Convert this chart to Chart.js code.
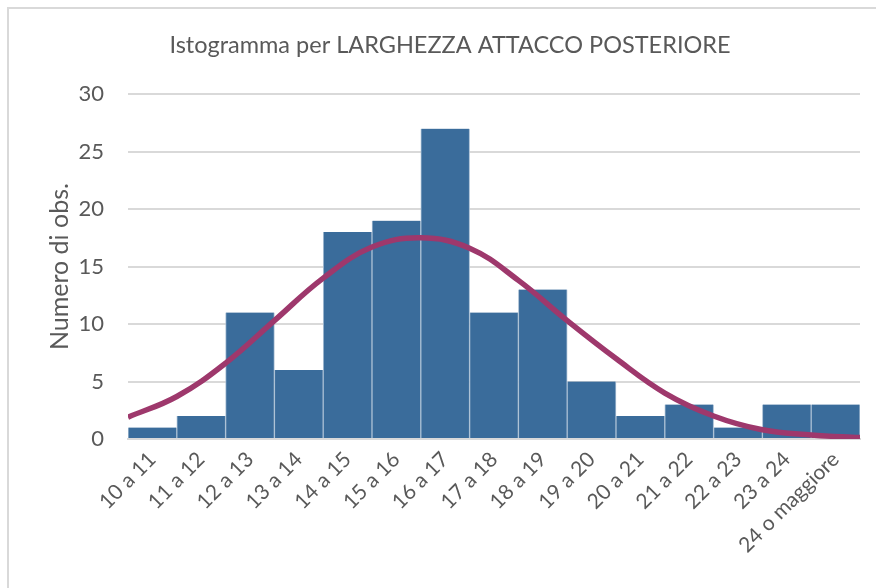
<!DOCTYPE html>
<html>
<head>
<meta charset="utf-8">
<script src="https://cdn.jsdelivr.net/npm/chart.js@4.4.0/dist/chart.umd.min.js"></script>
<style>
  html, body { margin: 0; padding: 0; background: #fff; }
  #wrap { position: relative; width: 876px; height: 588px; overflow: hidden; }
  #frame { position: absolute; left: 7px; top: 7px; width: 900px; height: 600px;
           border-left: 2px solid #d9d9d9; border-top: 2px solid #d9d9d9; pointer-events: none; }
  canvas { position: absolute; left: 0; top: 0; }
</style>
</head>
<body>
<div id="wrap">
  <canvas id="histChart" width="876" height="588"></canvas>
  <div id="frame"></div>
</div>
<script>
// Classi e frequenze osservate
const categorie = ['10 a 11', '11 a 12', '12 a 13', '13 a 14', '14 a 15', '15 a 16', '16 a 17',
  '17 a 18', '18 a 19', '19 a 20', '20 a 21', '21 a 22', '22 a 23', '23 a 24', '24 o maggiore'];
const frequenze = [1, 2, 11, 6, 18, 19, 27, 11, 13, 5, 2, 3, 1, 3, 3];

// Curva normale (ai bordi delle classi)
const curvaX = [10, 11, 12, 13, 14, 15, 16, 17, 18, 19, 20, 21, 22, 23, 24, 25];
const curvaY = [1.9, 3.7, 6.6, 10.3, 14.0, 16.7, 17.5, 16.6, 13.8, 10.3, 7.0, 4.0, 2.0, 0.8, 0.35, 0.12];

const yTicks = [0, 5, 10, 15, 20, 25, 30];

Chart.defaults.font.family = 'Lato, "Open Sans", sans-serif';
Chart.defaults.color = '#595959';

const ctx = document.getElementById('histChart').getContext('2d');
new Chart(ctx, {
  data: {
    labels: categorie,
    datasets: [
      {
        type: 'line',
        label: 'Normale',
        data: curvaX.map((x, i) => ({ x: x, y: curvaY[i] })),
        xAxisID: 'xc',
        borderColor: '#9e386c',
        borderWidth: 5.5,
        pointRadius: 0,
        tension: 0.4,
        fill: false,
        order: 0
      },
      {
        type: 'bar',
        label: 'Numero di obs.',
        data: frequenze,
        xAxisID: 'x',
        backgroundColor: '#3a6c9b',
        borderColor: '#a9bfd4',
        borderWidth: { left: 1, right: 1, top: 0, bottom: 0 },
        barPercentage: 1,
        categoryPercentage: 1,
        grouped: false,
        order: 1
      }
    ]
  },
  options: {
    responsive: false,
    animation: false,
    layout: { padding: { left: 40, right: 16, top: 7, bottom: 0 } },
    plugins: {
      legend: { display: false },
      tooltip: { enabled: false },
      title: {
        display: true,
        text: 'Istogramma per LARGHEZZA ATTACCO POSTERIORE',
        color: '#595959',
        font: { size: 23.5, weight: 'normal' },
        padding: { top: 24, bottom: 35 }
      }
    },
    scales: {
      x: {
        type: 'category',
        offset: true,
        grid: { display: false, drawTicks: false },
        border: { display: true, color: '#d9d9d9', width: 2 },
        ticks: { minRotation: 45, maxRotation: 45, font: { size: 21 }, padding: 8, autoSkip: false },
        afterFit: s => { s.height = 149; }
      },
      xc: {
        type: 'linear',
        display: false,
        min: 10,
        max: 25
      },
      y: {
        min: 0,
        max: 30,
        afterBuildTicks: s => { s.ticks = yTicks.map(v => ({ value: v })); },
        grid: { color: '#d9d9d9', lineWidth: 2, drawTicks: false },
        border: { display: false },
        ticks: { font: { size: 22 }, padding: 24 },
        title: { display: true, text: 'Numero di obs.', font: { size: 25 }, padding: { top: 5, bottom: 0 } },
        afterFit: s => { s.width = 88; }
      }
    }
  }
});
</script>
</body>
</html>
